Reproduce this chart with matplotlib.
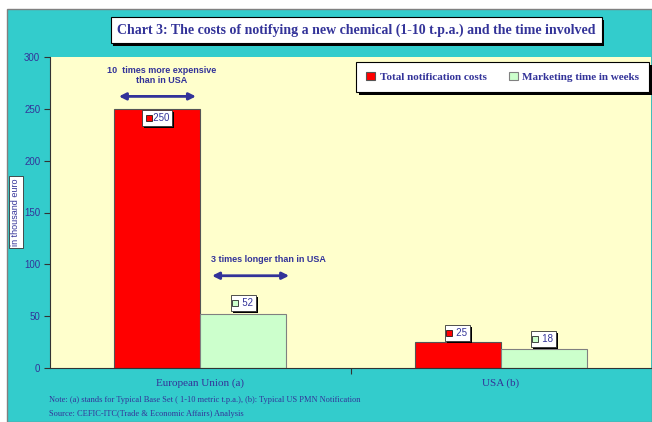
import matplotlib.pyplot as plt
import matplotlib.patheffects as pe
from matplotlib.patches import Rectangle
import numpy as np

categories = ['European Union (a)', 'USA (b)']
costs = [250, 25]
weeks = [52, 18]
series_names = ['Total notification costs', 'Marketing time in weeks']
yticks = [0, 50, 100, 150, 200, 250, 300]

navy = '#333399'
teal = '#33CCCC'
red = '#FF0000'
green = '#CCFFCC'

W, H = 652, 422
fig = plt.figure(figsize=(W / 100, H / 100), dpi=100)
fig.patch.set_facecolor('white')

# teal frame behind everything
fig.patches.append(Rectangle((7 / W, 0), 1 - 7 / W, 1 - 9 / H, transform=fig.transFigure,
                             facecolor=teal, edgecolor='#808080', linewidth=1, zorder=-10))

ax = fig.add_axes([50 / W, (H - 368) / H, 601 / W, 311 / H])
ax.set_facecolor('#FFFFCC')

x = np.arange(len(categories))
w = 0.286
ax.bar(x - w / 2, costs, w, color=red, edgecolor='#555555', linewidth=0.8, label=series_names[0])
ax.bar(x + w / 2, weeks, w, color=green, edgecolor='#808080', linewidth=0.8, label=series_names[1])

ax.set_xlim(-0.5, 1.5)
ax.set_ylim(0, 300)
ax.set_yticks(yticks)
ax.set_yticklabels([str(v) for v in yticks], fontsize=7, color=navy, family='Liberation Sans')
ax.set_xticks([0.5])
ax.set_xticklabels([''])
ax.tick_params(axis='x', length=4, color='#333333')
ax.tick_params(axis='y', length=4, color='#333333', pad=3)
for s in ['top', 'right']:
    ax.spines[s].set_visible(False)
ax.spines['left'].set_color('#333333')
ax.spines['bottom'].set_color('#333333')

for i, c in enumerate(categories):
    ax.text(i, -15, c, ha='center', va='center', fontsize=8, color=navy, family='Liberation Serif')

shadow = [pe.SimplePatchShadow(offset=(1.5, -1.5), shadow_rgbFace='black', alpha=1), pe.Normal()]

# data labels: white box with a small series marker
def data_label(xc, y, val, col):
    t = ax.text(xc, y, '   ' + str(val), ha='center', va='center', fontsize=7, color=navy,
                family='Liberation Sans', zorder=4,
                bbox=dict(boxstyle='square,pad=0.3', facecolor='white', edgecolor='#333333', linewidth=0.6))
    t.get_bbox_patch().set_path_effects(shadow)
    ax.plot(xc - 0.028, y, marker='s', markersize=4, markerfacecolor=col, markeredgecolor='black',
            markeredgewidth=0.5, zorder=5)

data_label(x[0] - w / 2, 241, costs[0], red)
data_label(x[0] + w / 2, 63, weeks[0], green)
data_label(x[1] - w / 2, 34, costs[1], red)
data_label(x[1] + w / 2, 28, weeks[1], green)

# annotations
ax.text(-0.128, 282, '10  times more expensive\nthan in USA', ha='center', va='center', fontsize=6.5,
        fontweight='bold', color=navy, family='Liberation Sans', linespacing=1.15)
ax.annotate('', xy=(-0.28, 262), xytext=(-0.005, 262),
            arrowprops=dict(arrowstyle='<|-|>', color=navy, lw=2, mutation_scale=10))
ax.text(0.035, 105, '3 times longer than in USA', ha='left', va='center', fontsize=6.5,
        fontweight='bold', color=navy, family='Liberation Sans')
ax.annotate('', xy=(0.03, 89), xytext=(0.305, 89),
            arrowprops=dict(arrowstyle='<|-|>', color=navy, lw=2, mutation_scale=10))

# legend
leg = ax.legend(loc='upper right', bbox_to_anchor=(0.997, 0.984), ncol=2, frameon=True,
                handlelength=0.8, handleheight=0.8, columnspacing=2.0, borderaxespad=0,
                borderpad=0.9, handletextpad=0.4, fancybox=False, shadow=False,
                framealpha=1, facecolor='white',
                prop={'family': 'Liberation Serif', 'weight': 'bold', 'size': 8})
leg.get_frame().set_edgecolor('black')
leg.get_frame().set_linewidth(0.8)
leg.get_frame().set_path_effects([pe.SimplePatchShadow(offset=(2, -2), shadow_rgbFace='black', alpha=1),
                                  pe.Normal()])
for t in leg.get_texts():
    t.set_color(navy)

# title
title = 'Chart 3: The costs of notifying a new chemical (1-10 t.p.a.) and the time involved'
tt = fig.text(356 / W, 1 - 30 / H, title, ha='center', va='center', fontsize=10, fontweight='bold',
              color=navy, family='Liberation Serif',
              bbox=dict(boxstyle='square,pad=0.45', facecolor='white', edgecolor='black', linewidth=0.8))
tt.get_bbox_patch().set_path_effects([pe.SimplePatchShadow(offset=(2, -2), shadow_rgbFace='black', alpha=1),
                                      pe.Normal()])

# y label
fig.text(16 / W, 1 - 212 / H, 'in thousand euro', rotation=90, ha='center', va='center', fontsize=6.5,
         color=navy, family='Liberation Sans',
         bbox=dict(boxstyle='square,pad=0.3', facecolor='white', edgecolor='#333333', linewidth=0.6))

# notes
fig.text(49 / W, 1 - 400 / H, 'Note: (a) stands for Typical Base Set ( 1-10 metric t.p.a.), (b): Typical US PMN Notification',
         ha='left', va='center', fontsize=6, color=navy, family='Liberation Serif')
fig.text(49 / W, 1 - 414 / H, 'Source: CEFIC-ITC(Trade & Economic Affairs) Analysis',
         ha='left', va='center', fontsize=6, color=navy, family='Liberation Serif')

fig.savefig('out.png', dpi=100)
